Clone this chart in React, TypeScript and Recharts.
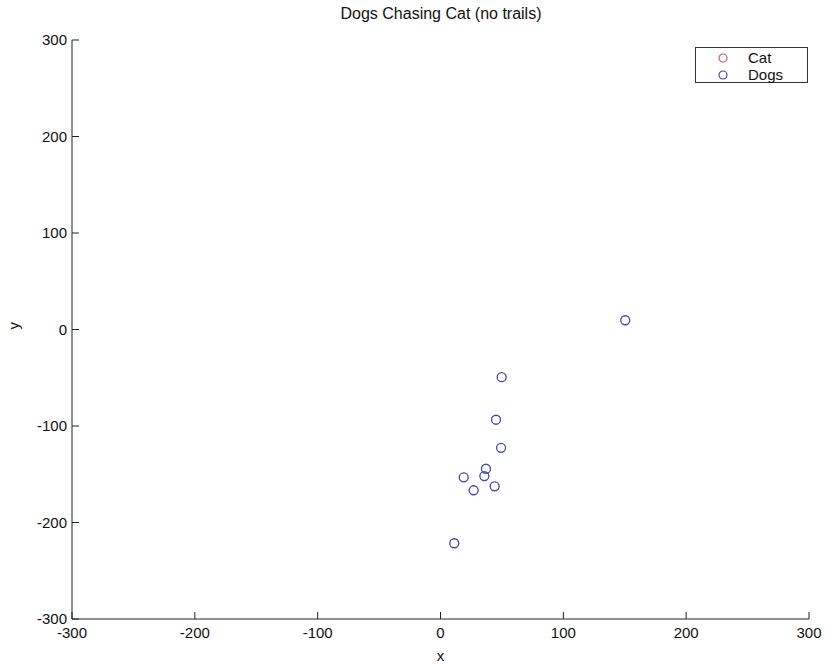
import { ScatterChart, Scatter, XAxis, YAxis } from 'recharts'

const xTicks = [-300, -200, -100, 0, 100, 200, 300]
const yTicks = [-300, -200, -100, 0, 100, 200, 300]

const dogX = [150.4, 49.8, 45.2, 49.3, 37, 35.7, 18.9, 44.1, 27, 11.2]
const dogY = [9.6, -49.4, -93.5, -122.6, -144.3, -151.9, -153.2, -162.5, -166.6, -221.5]

const catX: number[] = []
const catY: number[] = []

const dogs = dogX.map((x, i) => ({ x, y: dogY[i] }))
const cat = catX.map((x, i) => ({ x, y: catY[i] }))

const DOG_COLOR = '#4646aa'
const CAT_COLOR = '#c85a6e'
const FONT = '"Liberation Sans", Arial, sans-serif'

const series = [
  { name: 'Cat', color: CAT_COLOR },
  { name: 'Dogs', color: DOG_COLOR },
]

// hollow circle markers like matlab 'o'
const ring = (color: string) => (props: any) => (
  <circle cx={props.cx} cy={props.cy} r={4.5} fill="none" stroke={color} strokeWidth={1.3} />
)

// ticks point into the plot, so draw the tick line ourselves
function XTick(props: any) {
  const { x, y, payload } = props
  return (
    <g>
      <line x1={x} x2={x} y1={y - 6} y2={y - 13} stroke="#222" />
      <text x={x} y={y} dy={13} textAnchor="middle" fontSize={15} fontFamily={FONT} fill="#111">
        {payload.value}
      </text>
    </g>
  )
}

function YTick(props: any) {
  const { x, y, payload } = props
  return (
    <g>
      <line x1={x + 5} x2={x + 12} y1={y} y2={y} stroke="#222" />
      <text x={x} y={y} dy={5} textAnchor="end" fontSize={15} fontFamily={FONT} fill="#111">
        {payload.value}
      </text>
    </g>
  )
}

function LegendBox() {
  return (
    <div
      style={{
        position: 'absolute',
        left: 695,
        top: 47,
        width: 113,
        height: 36,
        border: '1px solid #333',
        background: '#fff',
        fontFamily: FONT,
        fontSize: 15,
        boxSizing: 'border-box',
        paddingTop: 1,
      }}
    >
      {series.map((it) => (
        <div key={it.name} style={{ display: 'flex', alignItems: 'center', height: 17, lineHeight: '17px' }}>
          <svg width={52} height={17}>
            <circle cx={27} cy={9} r={4} fill="none" stroke={it.color} strokeWidth={1.2} />
          </svg>
          <span style={{ color: '#111' }}>{it.name}</span>
        </div>
      ))}
    </div>
  )
}

export default function App() {
  return (
    <div style={{ position: 'absolute', left: 0, top: 0, width: 827, height: 665, background: '#fff' }}>
      <div
        style={{
          position: 'absolute',
          left: 0,
          top: 5,
          width: 882,
          textAlign: 'center',
          fontFamily: FONT,
          fontSize: 16,
          color: '#111',
        }}
      >
        Dogs Chasing Cat (no trails)
      </div>
      <ScatterChart width={827} height={665} margin={{ top: 40, right: 18, left: 0, bottom: 0 }}>
        <XAxis
          type="number"
          dataKey="x"
          domain={[-300, 300]}
          ticks={xTicks}
          interval={0}
          allowDataOverflow
          height={46}
          tickSize={0}
          tickMargin={6}
          tick={<XTick />}
          stroke="#222"
          label={{ value: 'x', position: 'insideBottom', offset: 4, fontSize: 15, fontFamily: FONT, fill: '#111' }}
        />
        <YAxis
          type="number"
          dataKey="y"
          domain={[-300, 300]}
          ticks={yTicks}
          interval={0}
          allowDataOverflow
          width={72}
          tickSize={0}
          tickMargin={5}
          tick={<YTick />}
          stroke="#222"
          label={{ value: 'y', angle: -90, position: 'insideLeft', offset: 14, fontSize: 15, fontFamily: FONT, fill: '#111' }}
        />
        <Scatter name="Cat" data={cat} shape={ring(CAT_COLOR)} isAnimationActive={false} />
        <Scatter name="Dogs" data={dogs} shape={ring(DOG_COLOR)} isAnimationActive={false} />
      </ScatterChart>
      <LegendBox />
    </div>
  )
}
